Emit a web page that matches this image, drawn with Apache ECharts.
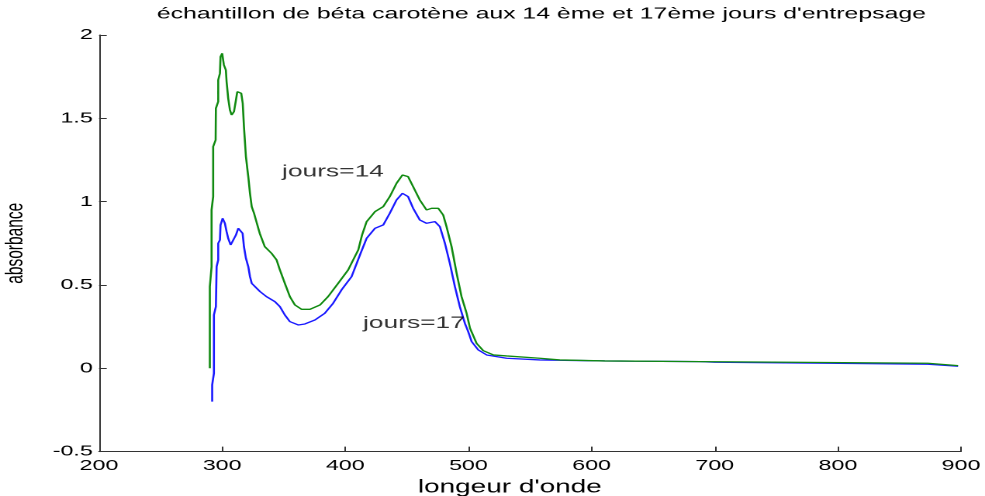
<!DOCTYPE html>
<html><head><meta charset="utf-8">
<script src="https://cdn.jsdelivr.net/npm/echarts@6/dist/echarts.min.js"></script>
<style>
html,body{margin:0;padding:0;background:#fff;overflow:hidden;width:985px;height:496px}
#wrap{width:985px;height:496px;overflow:hidden;position:relative}
#chart{width:635px;height:496px;transform:scaleX(1.5512);transform-origin:0 0;position:absolute;left:0;top:0}
</style></head>
<body><div id="wrap"><div id="chart"></div></div>
<script>
// ---- data ----
var titleText = "échantillon de béta carotène aux 14 ème et 17ème jours d'entrepsage";
var xName = "longeur d'onde";
var yName = "absorbance";

var lambda14 = [290.0,290.0,291.4,291.4,292.7,292.7,294.7,294.9,296.8,296.8,298.2,298.7,300.0,301.4,301.4,303.0,303.6,304.9,306.3,307.7,309.6,311.2,312.3,313.9,315.5,316.7,317.7,319.3,321.2,322.6,324.0,325.9,330.5,334.6,340.1,344.2,346.9,350.9,355.0,359.1,364.5,371.3,379.5,386.0,394.2,402.3,410.5,413.6,417.3,424.1,430.8,436.1,441.6,446.4,451.0,455.1,460.5,466.0,470.1,475.5,479.5,482.2,486.3,490.4,494.4,498.5,501.3,506.6,512.0,520.2,531.0,557.9,574.2,610.7,687.6,762.5,873.1,897.6];
var absorb14 = [0.00,0.49,0.61,0.95,1.03,1.33,1.37,1.56,1.60,1.73,1.77,1.87,1.89,1.88,1.82,1.79,1.72,1.62,1.55,1.52,1.54,1.61,1.66,1.67,1.65,1.59,1.45,1.27,1.15,1.05,0.97,0.93,0.81,0.73,0.69,0.65,0.59,0.51,0.43,0.38,0.354,0.354,0.38,0.43,0.51,0.59,0.71,0.80,0.88,0.94,0.97,1.03,1.11,1.16,1.15,1.09,1.01,0.95,0.96,0.96,0.92,0.85,0.73,0.57,0.43,0.33,0.24,0.15,0.106,0.08,0.074,0.06,0.05,0.044,0.04,0.036,0.03,0.016];

var lambda17 = [291.9,291.9,293.3,293.3,294.9,295.5,296.8,296.8,298.2,298.7,300.4,302.2,303.6,304.9,306.9,309.0,311.2,313.1,315.0,316.6,317.7,319.3,321.2,322.6,324.0,326.7,330.8,336.0,342.8,346.9,350.9,355.0,361.8,367.2,375.4,383.3,390.1,396.9,405.1,411.9,417.3,424.1,430.8,436.1,441.6,446.4,451.0,455.1,460.5,466.0,472.8,476.8,480.9,484.9,489.0,493.0,497.1,499.8,502.6,508.0,514.8,531.0,557.9,610.7,687.6,700.0,791.0,873.0,897.6];
var absorb17 = [-0.20,-0.10,-0.03,0.32,0.37,0.61,0.65,0.75,0.77,0.86,0.90,0.87,0.82,0.78,0.74,0.75,0.80,0.84,0.84,0.81,0.73,0.66,0.61,0.55,0.51,0.49,0.46,0.43,0.40,0.37,0.32,0.28,0.26,0.266,0.29,0.33,0.39,0.47,0.55,0.68,0.78,0.84,0.86,0.93,1.01,1.05,1.03,0.96,0.89,0.87,0.88,0.85,0.75,0.63,0.49,0.37,0.27,0.22,0.16,0.11,0.08,0.06,0.05,0.044,0.04,0.036,0.03,0.024,0.012];

var noteTexts = ["jours=14", "jours=17"];
var noteX = [348.6, 414.4];
var noteY = [1.18, 0.27];

var xMin = 200, xMax = 900, xStep = 100;
var yMin = -0.5, yMax = 2, yStep = 0.5;
// --------------------------------------

function pairs(xs, ys){ return xs.map(function(x,i){ return [x, ys[i]]; }); }
var FONT = "'Liberation Sans', Arial, Helvetica, sans-serif";

var chart = echarts.init(document.getElementById('chart'), null, {renderer:'canvas', devicePixelRatio: 2});
chart.setOption({
  animation: false,
  backgroundColor: '#ffffff',
  title: {
    text: titleText, left: 349, top: 6, textAlign: 'center', padding: 0,
    textStyle: {fontFamily: FONT, fontSize: 16, fontWeight: 'normal', color: '#000'}
  },
  grid: {left: 63.82, right: 15.47, top: 35, bottom: 44.4, containLabel: false, outerBoundsMode: 'none'},
  xAxis: {
    type: 'value', min: xMin, max: xMax, interval: xStep,
    name: xName, nameLocation: 'middle', nameGap: 25,
    nameTextStyle: {fontFamily: FONT, fontSize: 18, color: '#000', padding: [0, 26, 0, 0]},
    axisLine: {show: true, onZero: false, lineStyle: {color: '#333', width: 1}},
    axisTick: {show: true, inside: true, length: 5, lineStyle: {color: '#333'}},
    axisLabel: {fontFamily: FONT, fontSize: 15, color: '#000', margin: 7},
    splitLine: {show: false}
  },
  yAxis: {
    type: 'value', min: yMin, max: yMax, interval: yStep,
    name: yName, nameLocation: 'middle', nameGap: 45.5, nameRotate: 90,
    nameTextStyle: {fontFamily: FONT, fontSize: 15.5, color: '#000'},
    axisLine: {show: true, onZero: false, lineStyle: {color: '#333', width: 1}},
    axisTick: {show: true, inside: true, length: 5, lineStyle: {color: '#333'}},
    axisLabel: {fontFamily: FONT, fontSize: 15, color: '#000', margin: 4},
    splitLine: {show: false}
  },
  series: [
    {type: 'line', name: 'jours=14', data: pairs(lambda14, absorb14), showSymbol: false,
     lineStyle: {color: '#108a10', width: 1.3}, itemStyle: {color: '#108a10'}, z: 3},
    {type: 'line', name: 'jours=17', data: pairs(lambda17, absorb17), showSymbol: false,
     lineStyle: {color: '#1a1aff', width: 1.3}, itemStyle: {color: '#1a1aff'}, z: 2},
    {type: 'scatter', symbolSize: 0, silent: true,
     data: noteTexts.map(function(t,i){ return {name: t, value: [noteX[i], noteY[i]]}; }),
     label: {show: true, position: 'right', distance: 0, formatter: '{b}',
             fontFamily: FONT, fontSize: 17, color: '#000'}}
  ]
});
</script>
</body></html>
